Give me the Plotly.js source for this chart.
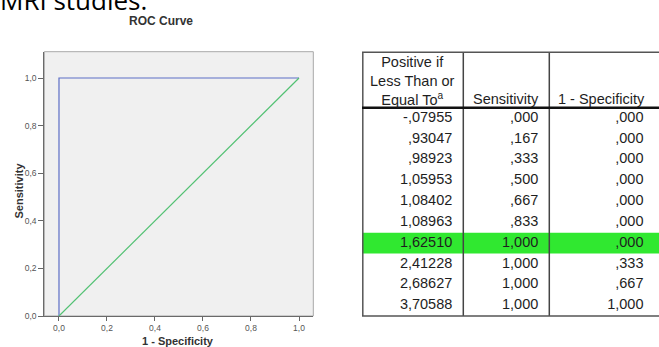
<!DOCTYPE html>
<html>
<head>
<meta charset="utf-8">
<script src="https://cdn.plot.ly/plotly-3.0.1.min.js"></script>
<style>html,body{margin:0;padding:0;background:#fff;}#chart{width:659px;height:347px;}</style>
</head>
<body>
<div id="chart"></div>
<script>
// ---- data ----
const thresholds   = [-0.07955, 0.93047, 0.98923, 1.05953, 1.08402, 1.08963, 1.62510, 2.41228, 2.68627, 3.70588];
const sensitivity  = [0.000, 0.167, 0.333, 0.500, 0.667, 0.833, 1.000, 1.000, 1.000, 1.000];
const oneMinusSpec = [0.000, 0.000, 0.000, 0.000, 0.000, 0.000, 0.000, 0.333, 0.667, 1.000];
const refX = [0, 1];
const refY = [0, 1];
const axisTicks = [0, 0.2, 0.4, 0.6, 0.8, 1.0];
const headers = ['Positive if<br>Less Than or<br>Equal To<sup>a</sup>', 'Sensitivity', '1 - Specificity'];
const chartTitle = 'ROC Curve';
const xTitle = '1 - Specificity';
const yTitle = 'Sensitivity';
const pageText = 'MRI studies.';

// ---- helpers ----
function spss(v, d) {
  let s = Math.abs(v).toFixed(d).replace('.', ',');
  if (s.startsWith('0,')) s = s.slice(1);
  return (v < 0 ? '-' : '') + s;
}
const W = 659, H = 347;
const rows = thresholds.map((_, i) => i);
// highlighted row: best Youden index
let hi = 0, best = -Infinity;
sensitivity.forEach((s, i) => { const j = s - oneMinusSpec[i]; if (j > best) { best = j; hi = i; } });

// table geometry (px offsets from table left edge)
const colEdges = [0, 101.3, 187.3, 292.5];
const pad = 11;
const rowH = 20.83, hdrBottomPx = 107.7, tableTopPx = 52.3;
const yTop = -0.5 - hdrBottomPx / rowH;
const yBot = -0.5 + (H - hdrBottomPx) / rowH;
const tblTop = -0.5 - (hdrBottomPx - tableTopPx) / rowH;
const tblBot = rows.length - 0.5;

const FONT = 'Liberation Sans, Arial, sans-serif';
const cellFont = {family: FONT, size: 14.5, color: '#1e1e1e'};

const colTexts = [
  thresholds.map(v => spss(v, 5)),
  sensitivity.map(v => spss(v, 3)),
  oneMinusSpec.map(v => spss(v, 3))
];

const traces = [
  {x: oneMinusSpec, y: sensitivity, mode: 'lines', line: {color: '#5c6ec6', width: 1.2}, hoverinfo: 'skip', showlegend: false},
  {x: refX, y: refY, mode: 'lines', line: {color: '#52c173', width: 1.2}, hoverinfo: 'skip', showlegend: false}
];
colTexts.forEach((txt, c) => {
  traces.push({
    x: rows.map(() => colEdges[c + 1] - pad), y: rows, text: txt,
    mode: 'text', textposition: 'middle left', textfont: cellFont,
    xaxis: 'x2', yaxis: 'y2', hoverinfo: 'skip', showlegend: false, cliponaxis: false
  });
});

const tl = {xref: 'x2', yref: 'y2', layer: 'above'};
const shapes = [
  {type: 'rect', xref: 'x domain', yref: 'y domain', x0: 0, x1: 1, y0: 0, y1: 1, fillcolor: '#f0f0f0', line: {color: '#a8a8a8', width: 1}, layer: 'below'},
  Object.assign({}, tl, {type: 'rect', x0: 0, x1: 300, y0: hi - 0.5, y1: hi + 0.5, fillcolor: '#30e830', line: {width: 0}, layer: 'below'}),
  Object.assign({}, tl, {type: 'line', x0: 0.8, x1: 0.8, y0: tblTop, y1: tblBot, line: {color: '#555', width: 1.5}}),
  Object.assign({}, tl, {type: 'line', x0: colEdges[1], x1: colEdges[1], y0: tblTop, y1: tblBot, line: {color: '#444', width: 1.5}}),
  Object.assign({}, tl, {type: 'line', x0: colEdges[2], x1: colEdges[2], y0: tblTop, y1: tblBot, line: {color: '#444', width: 1.5}}),
  Object.assign({}, tl, {type: 'line', x0: 0, x1: 300, y0: tblTop, y1: tblTop, line: {color: '#555', width: 1.5}}),
  Object.assign({}, tl, {type: 'line', x0: 0, x1: 300, y0: -0.5, y1: -0.5, line: {color: '#111', width: 2.5}}),
  Object.assign({}, tl, {type: 'line', x0: 0, x1: 300, y0: tblBot, y1: tblBot, line: {color: '#555', width: 1.5}})
];

const annotations = [
  {xref: 'x2', yref: 'y2', x: (colEdges[0] + colEdges[1]) / 2, y: -1.796, text: headers[0], showarrow: false, font: cellFont, align: 'center', xanchor: 'center', yanchor: 'middle'},
  {xref: 'x2', yref: 'y2', x: (colEdges[1] + colEdges[2]) / 2, y: -0.903, text: headers[1], showarrow: false, font: cellFont, xanchor: 'center', yanchor: 'middle'},
  {xref: 'x2', yref: 'y2', x: 239, y: -0.903, text: headers[2], showarrow: false, font: cellFont, xanchor: 'center', yanchor: 'middle'},
  {xref: 'paper', yref: 'paper', x: 160.5 / W, y: 1 - 20.5 / H, text: chartTitle, showarrow: false, font: {family: FONT, size: 12, color: '#333', weight: 700}, xanchor: 'center', yanchor: 'middle'},
  {xref: 'paper', yref: 'paper', x: 178 / W, y: 1 - 341 / H, text: xTitle, showarrow: false, font: {family: FONT, size: 11, color: '#333', weight: 700}, xanchor: 'center', yanchor: 'middle'},
  {xref: 'paper', yref: 'paper', x: 18 / W, y: 1 - 190.5 / H, text: yTitle, showarrow: false, textangle: -90, font: {family: FONT, size: 11, color: '#333', weight: 700}, xanchor: 'center', yanchor: 'middle'},
  {xref: 'paper', yref: 'paper', x: -2 / W, y: 1 + 0.2 / H, text: pageText, showarrow: false, font: {family: 'Open Sans, sans-serif', size: 26, color: '#000'}, xanchor: 'left', yanchor: 'middle'}
];

const tickFont = {family: FONT, size: 8.5, color: '#555'};
const layout = {
  width: W, height: H,
  margin: {l: 0, r: 0, t: 0, b: 0, pad: 0},
  paper_bgcolor: '#fff', plot_bgcolor: '#fff',
  separators: ',.',
  showlegend: false,
  xaxis: {domain: [44.3 / W, 313.3 / W], range: [-0.0612, 1.0596], tickvals: axisTicks, tickformat: '.1f',
          ticks: 'outside', ticklen: 4, tickwidth: 1, tickcolor: '#666', showgrid: false, zeroline: false,
          showline: true, linecolor: '#6a6a6a', linewidth: 1, tickfont: tickFont, fixedrange: true},
  yaxis: {domain: [(H - 316) / H, (H - 51.7) / H], range: [0, 1.1105], tickvals: axisTicks, tickformat: '.1f',
          ticks: 'outside', ticklen: 5, tickwidth: 1, tickcolor: '#666', showgrid: false, zeroline: false,
          showline: true, linecolor: '#6a6a6a', linewidth: 1, tickfont: tickFont, fixedrange: true},
  xaxis2: {domain: [0.5, 1], range: [-32.5, 297], visible: false, anchor: 'y2', fixedrange: true},
  yaxis2: {domain: [0, 1], range: [yBot, yTop], visible: false, anchor: 'x2', fixedrange: true},
  shapes: shapes,
  annotations: annotations
};

Plotly.newPlot('chart', traces, layout, {displayModeBar: false, staticPlot: true});
</script>
</body>
</html>
